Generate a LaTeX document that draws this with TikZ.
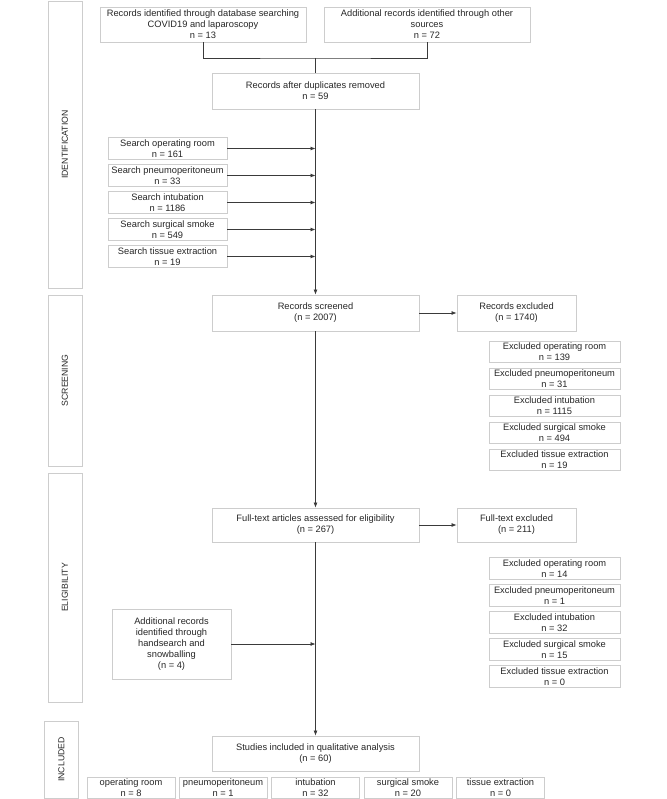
\documentclass[tikz,border=0pt]{standalone}
\usepackage{fontspec}
\setmainfont{Liberation Sans}
\usepackage{xcolor}
\usetikzlibrary{arrows.meta,positioning,calc}
\definecolor{boxgray}{HTML}{CDCDCD}
\definecolor{linegray}{HTML}{3A3A3A}

\begin{document}
\begin{tikzpicture}[
    x=1pt, y=-1pt,
    font=\fontsize{9.3}{11}\selectfont,
    box/.style={rectangle, draw=boxgray, line width=0.9pt, align=center, inner sep=0pt, text=black!85},
    widebox/.style={box, minimum width=207pt, minimum height=36pt},
    searchbox/.style={box, minimum width=119pt, minimum height=21.5pt},
    exclbox/.style={box, minimum width=131pt, minimum height=21.5pt},
    catbox/.style={box, minimum width=88pt, minimum height=21pt},
    panel/.style={rectangle, draw=boxgray, line width=0.9pt, minimum width=34pt},
    phase/.style={rotate=90, font=\fontsize{8.7}{10}\selectfont, text=black!85},
    arrow/.style={-{Latex[length=5pt,width=4pt]}, draw=linegray, line width=0.7pt},
    link/.style={draw=linegray, line width=0.7pt}
]
\useasboundingbox (0,0) rectangle (666,799);

% Phase panels
\node[panel, minimum height=287pt] (idpanel) at (65,144.5) {};
\node[phase] (idlabel) at (idpanel.center) {IDENTIFICATION};
\node[panel, minimum height=171pt] (scpanel) at (65,380.5) {};
\node[phase] (sclabel) at (scpanel.center) {SCREENING};
\node[panel, minimum height=229pt] (elpanel) at (65,587.5) {};
\node[phase] (ellabel) at (elpanel.center) {ELIGIBILITY};
\node[panel, minimum height=77pt] (inpanel) at (61.5,759.5) {};
\node[phase] (inlabel) at (inpanel.center) {INCLUDED};

% Identification
\node[box, minimum width=206pt, minimum height=35pt] (dbsearch) at (203,24.5) {Records identified through database searching\\
COVID19 and laparoscopy\\
n = 13};
\node[box, minimum width=206pt, minimum height=35pt] (othersrc) at (427,24.5) {Additional records identified through other\\
sources\\
n = 72};
\coordinate (merge) at (315.5,58);
\node[widebox] (dedup) at (315.5,91) {Records after duplicates removed\\
n = 59};

\node[searchbox] (sroom) at (167.5,148.5) {Search operating room\\n = 161};
\node[searchbox] (spneumo) at (167.5,175.5) {Search pneumoperitoneum\\n = 33};
\node[searchbox] (sintub) at (167.5,202.5) {Search intubation\\n = 1186};
\node[searchbox] (ssmoke) at (167.5,229.5) {Search surgical smoke\\n = 549};
\node[searchbox] (stissue) at (167.5,256.5) {Search tissue extraction\\n = 19};

% Screening
\node[widebox] (screened) at (315.5,313) {Records screened\\(n = 2007)};
\node[box, minimum width=119pt, minimum height=36pt] (excluded) at (516.5,313) {Records excluded\\(n = 1740)};

\node[exclbox] (xroom) at (554.5,352) {Excluded operating room\\n = 139};
\node[exclbox] (xpneumo) at (554.5,379) {Excluded pneumoperitoneum\\n = 31};
\node[exclbox] (xintub) at (554.5,406) {Excluded intubation\\n = 1115};
\node[exclbox] (xsmoke) at (554.5,433) {Excluded surgical smoke\\n = 494};
\node[exclbox] (xtissue) at (554.5,460) {Excluded tissue extraction\\n = 19};

% Eligibility
\node[box, minimum width=207pt, minimum height=34pt] (fulltext) at (315.5,525) {Full-text articles assessed for eligibility\\(n = 267)};
\node[box, minimum width=119pt, minimum height=34pt] (ftexcl) at (516.5,525) {Full-text excluded\\(n = 211)};

\node[exclbox] (froom) at (554.5,568.5) {Excluded operating room\\n = 14};
\node[exclbox] (fpneumo) at (554.5,595.5) {Excluded pneumoperitoneum\\n = 1};
\node[exclbox] (fintub) at (554.5,622.5) {Excluded intubation\\n = 32};
\node[exclbox] (fsmoke) at (554.5,649.5) {Excluded surgical smoke\\n = 15};
\node[exclbox] (ftissue) at (554.5,676.5) {Excluded tissue extraction\\n = 0};

\node[box, minimum width=119pt, minimum height=70pt] (handsearch) at (171.5,644) {Additional records\\
identified through\\
handsearch and\\
snowballing\\
(n = 4)};

% Included
\node[box, minimum width=207pt, minimum height=35pt] (included) at (315.5,753.5) {Studies included in qualitative analysis\\(n = 60)};

\node[catbox] (iroom) at (131,787.5) {operating room\\n = 8};
\node[catbox] (ipneumo) at (223,787.5) {pneumoperitoneum\\n = 1};
\node[catbox] (iintub) at (315.5,787.5) {intubation\\n = 32};
\node[catbox] (ismoke) at (408,787.5) {surgical smoke\\n = 20};
\node[catbox] (itissue) at (500.5,787.5) {tissue extraction\\n = 0};

% Connectors
\draw[link] (dbsearch.south) |- (merge) -| (othersrc.south);
\draw[link] (merge) -- (dedup.north);
\draw[arrow] (dedup.south) -- (screened.north);
\draw[arrow] (sroom.east) -- (sroom.east -| dedup.south);
\draw[arrow] (spneumo.east) -- (spneumo.east -| dedup.south);
\draw[arrow] (sintub.east) -- (sintub.east -| dedup.south);
\draw[arrow] (ssmoke.east) -- (ssmoke.east -| dedup.south);
\draw[arrow] (stissue.east) -- (stissue.east -| dedup.south);
\draw[arrow] (screened.east) -- (excluded.west);
\draw[arrow] (screened.south) -- (fulltext.north);
\draw[arrow] (fulltext.east) -- (ftexcl.west);
\draw[arrow] (fulltext.south) -- (included.north);
\draw[arrow] (handsearch.east) -- (handsearch.east -| fulltext.south);

\end{tikzpicture}
\end{document}
